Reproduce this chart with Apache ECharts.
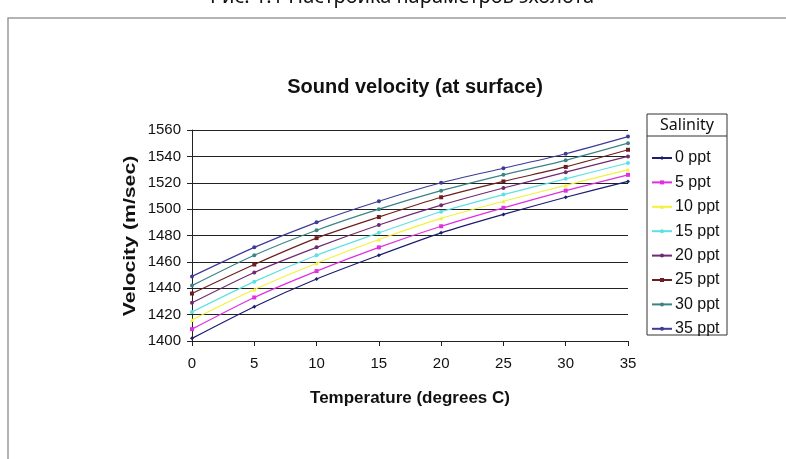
<!DOCTYPE html>
<html>
<head>
<meta charset="utf-8">
<script src="https://cdn.jsdelivr.net/npm/echarts@6/dist/echarts.min.js"></script>
<style>html,body{margin:0;padding:0;background:#fff;}#c{width:786px;height:459px;}</style>
</head>
<body>
<div id="c"></div>
<script>
const temperatures = [0, 5, 10, 15, 20, 25, 30, 35];
const salinityNames = ['0 ppt', '5 ppt', '10 ppt', '15 ppt', '20 ppt', '25 ppt', '30 ppt', '35 ppt'];
const s0  = [1402, 1426, 1447, 1465, 1482, 1496, 1509, 1521];
const s5  = [1409, 1433, 1453, 1471, 1487, 1501, 1514, 1526];
const s10 = [1416, 1439, 1459, 1477, 1493, 1506, 1518, 1530];
const s15 = [1422, 1445, 1465, 1482, 1498, 1511, 1523, 1535];
const s20 = [1429, 1452, 1471, 1488, 1503, 1516, 1528, 1540];
const s25 = [1436, 1458, 1478, 1494, 1509, 1521, 1532, 1545];
const s30 = [1442, 1465, 1484, 1500, 1514, 1526, 1537, 1550];
const s35 = [1449, 1471, 1490, 1506, 1520, 1531, 1542, 1555];
const yTicks = [1400, 1420, 1440, 1460, 1480, 1500, 1520, 1540, 1560];
const xTicks = [0, 5, 10, 15, 20, 25, 30, 35];

const allSeries = [s0, s5, s10, s15, s20, s25, s30, s35];
const colors = ['#1c1c72', '#e02ee0', '#f2f23c', '#5ee0e0', '#6e2a72', '#6e1e1e', '#3c8484', '#3c3c98'];
const symbols = ['diamond', 'rect', 'triangle', 'circle', 'circle', 'rect', 'circle', 'circle'];
const font = '"Liberation Sans", Arial, sans-serif';

const chart = echarts.init(document.getElementById('c'), null, {renderer: 'canvas'});
chart.setOption({
  animation: false,
  backgroundColor: '#fff',
  textStyle: {fontFamily: font},
  grid: {left: 192, right: 158, top: 130, bottom: 118, containLabel: false},
  xAxis: {
    type: 'value', min: 0, max: 35, interval: 5,
    axisLine: {show: true, lineStyle: {color: '#222', width: 1}},
    axisTick: {show: true, inside: false, length: 5, lineStyle: {color: '#222'}},
    axisLabel: {fontFamily: font, fontSize: 15, color: '#111', margin: 15,
      formatter: v => xTicks.includes(v) ? String(v) : ''},
    splitLine: {show: false}
  },
  yAxis: {
    type: 'value', min: 1400, max: 1560, interval: 20,
    axisLine: {show: true, lineStyle: {color: '#222', width: 1}},
    axisTick: {show: true, inside: false, length: 5, lineStyle: {color: '#222'}},
    axisLabel: {fontFamily: font, fontSize: 15, color: '#111', margin: 11,
      formatter: v => yTicks.includes(v) ? String(v) : ''},
    splitLine: {show: true, lineStyle: {color: '#222', width: 1}}
  },
  legend: {
    orient: 'vertical', left: 646, top: 145, itemWidth: 20, itemHeight: 5, itemGap: 8.4,
    data: salinityNames,
    textStyle: {fontFamily: font, fontSize: 16, color: '#111', padding: [0, 0, 0, -2], lineHeight: 16}
  },
  series: allSeries.map((s, i) => ({
    name: salinityNames[i],
    type: 'line',
    data: temperatures.map((t, j) => [t, s[j]]),
    smooth: 0.25,
    symbol: symbols[i],
    symbolSize: 4,
    showAllSymbol: true,
    lineStyle: {color: colors[i], width: 1.2},
    itemStyle: {color: colors[i]},
    z: 3
  })),
  graphic: [
    {type: 'rect', shape: {x: 8, y: 18, width: 900, height: 600}, style: {fill: 'none', stroke: '#9a9a9a', lineWidth: 1.5}, z: -1},
    {type: 'text', x: 402, y: -13, style: {text: 'Рис. 1.1 Настройка параметров эхолота', font: '20px "Noto Sans", sans-serif', fill: '#111', align: 'center', verticalAlign: 'top'}},
    {type: 'text', x: 415, y: 87, style: {text: 'Sound velocity (at surface)', font: 'bold 20px ' + font, fill: '#111', align: 'center', verticalAlign: 'middle'}},
    {type: 'text', x: 410, y: 398, style: {text: 'Temperature (degrees C)', font: 'bold 17px ' + font, fill: '#111', align: 'center', verticalAlign: 'middle'}},
    {type: 'text', x: 130, y: 236, rotation: Math.PI / 2, scaleX: 1.25, style: {text: 'Velocity (m/sec)', font: 'bold 17px ' + font, fill: '#111', align: 'center', verticalAlign: 'middle'}},
    {type: 'rect', shape: {x: 647, y: 114, width: 80, height: 221}, style: {fill: 'none', stroke: '#333', lineWidth: 1}},
    {type: 'line', shape: {x1: 647, y1: 136, x2: 727, y2: 136}, style: {stroke: '#333', lineWidth: 1}},
    {type: 'text', x: 687, y: 125, style: {text: 'Salinity', font: '16px "Noto Sans", sans-serif', fill: '#111', align: 'center', verticalAlign: 'middle'}}
  ]
});
</script>
</body>
</html>
